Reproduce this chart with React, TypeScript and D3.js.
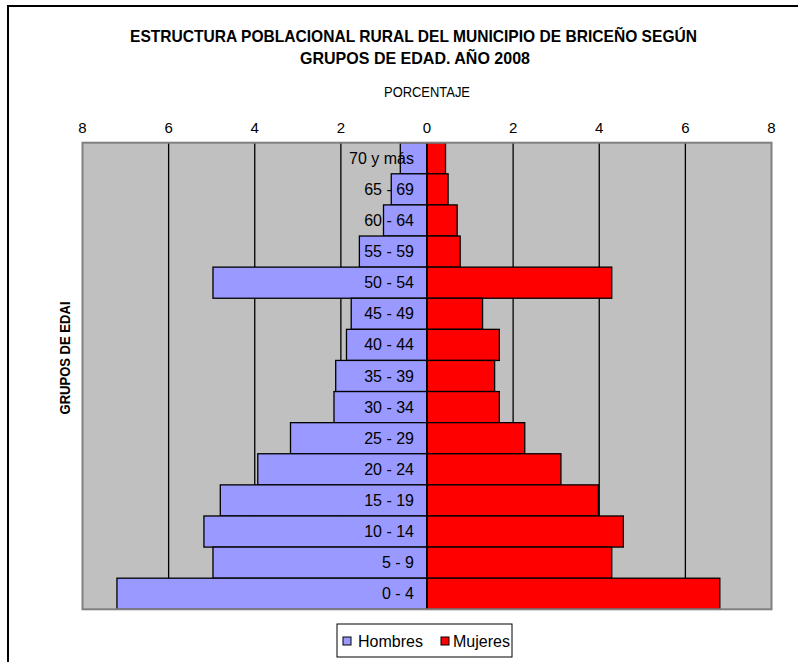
import React from "react";
import * as d3 from "d3";

const groups = ["70 y más", "65 - 69", "60 - 64", "55 - 59", "50 - 54", "45 - 49", "40 - 44", "35 - 39", "30 - 34", "25 - 29", "20 - 24", "15 - 19", "10 - 14", "5 - 9", "0 - 4"];
const hombres = [0.62, 0.83, 1.01, 1.57, 4.97, 1.76, 1.87, 2.12, 2.16, 3.17, 3.93, 4.8, 5.18, 4.97, 7.2];
const mujeres = [0.43, 0.49, 0.7, 0.77, 4.29, 1.29, 1.68, 1.57, 1.68, 2.27, 3.11, 3.98, 4.56, 4.29, 6.8];
const ticks = [-8, -6, -4, -2, 0, 2, 4, 6, 8];
const title1 = "ESTRUCTURA POBLACIONAL RURAL DEL MUNICIPIO DE BRICEÑO SEGÚN";
const title2 = "GRUPOS DE EDAD. AÑO 2008";
const xTitle = "PORCENTAJE";
const yTitle = "GRUPOS DE EDAI";

export default function App() {
  const W = 798, H = 662;
  const left = 82.5, right = 771.5, top = 142.7, bottom = 609.3;
  const x = d3.scaleLinear().domain([-8, 8]).range([left, right]);
  const y = d3.scaleBand().domain(groups).range([top, bottom]).padding(0);
  const font = "Arial, 'Liberation Sans', sans-serif";
  return (
    <svg width={W} height={H} style={{ position: "absolute", left: 0, top: 0 }} fontFamily={font}>
      <rect x={0} y={0} width={W} height={H} fill="#fff" />
      <rect x={8} y={6} width={900} height={900} fill="none" stroke="#000" strokeWidth={2} />
      <text x={413.5} y={41.5} textAnchor="middle" fontSize={16.5} fontWeight="bold" textLength={567} lengthAdjust="spacingAndGlyphs">{title1}</text>
      <text x={415} y={63.5} textAnchor="middle" fontSize={16.5} fontWeight="bold" textLength={230} lengthAdjust="spacingAndGlyphs">{title2}</text>
      <text x={427} y={96.5} textAnchor="middle" fontSize={14} textLength={86} lengthAdjust="spacingAndGlyphs">{xTitle}</text>
      {ticks.map((t) => (
        <text key={t} x={x(t)} y={133} textAnchor="middle" fontSize={15}>{Math.abs(t)}</text>
      ))}
      <rect x={left} y={top} width={right - left} height={bottom - top} fill="#c0c0c0" />
      {ticks.filter((t) => Math.abs(t) !== 8).map((t) => (
        <line key={t} x1={x(t)} x2={x(t)} y1={top} y2={bottom} stroke="#000" strokeWidth={1.3} />
      ))}
      {groups.map((g, i) => (
        <g key={g}>
          <rect x={x(-hombres[i])} y={y(g)!} width={x(0) - x(-hombres[i])} height={y.bandwidth()} fill="#9999ff" stroke="#000" strokeWidth={1.3} />
          <rect x={x(0)} y={y(g)!} width={x(mujeres[i]) - x(0)} height={y.bandwidth()} fill="#ff0000" stroke="#000" strokeWidth={1.3} />
        </g>
      ))}
      <line x1={x(0)} x2={x(0)} y1={top} y2={bottom} stroke="#000" strokeWidth={1.6} />
      {groups.map((g) => (
        <text key={g} x={414} y={y(g)! + y.bandwidth() / 2 + 5.5} textAnchor="end" fontSize={16}>{g}</text>
      ))}
      <rect x={left} y={top} width={right - left} height={bottom - top} fill="none" stroke="#808080" strokeWidth={2} />
      <text transform={`translate(70,358) rotate(-90)`} textAnchor="middle" fontSize={14.5} fontWeight="bold" textLength={113} lengthAdjust="spacingAndGlyphs">{yTitle}</text>
      <rect x={337} y={624} width={175} height={33} fill="#fff" stroke="#000" strokeWidth={1} />
      <rect x={343} y={637} width={8} height={8} fill="#9999ff" stroke="#000" strokeWidth={1} />
      <text x={358} y={646.5} fontSize={16}>Hombres</text>
      <rect x={441} y={637} width={8} height={8} fill="#ff0000" stroke="#000" strokeWidth={1} />
      <text x={453} y={646.5} fontSize={16}>Mujeres</text>
    </svg>
  );
}
